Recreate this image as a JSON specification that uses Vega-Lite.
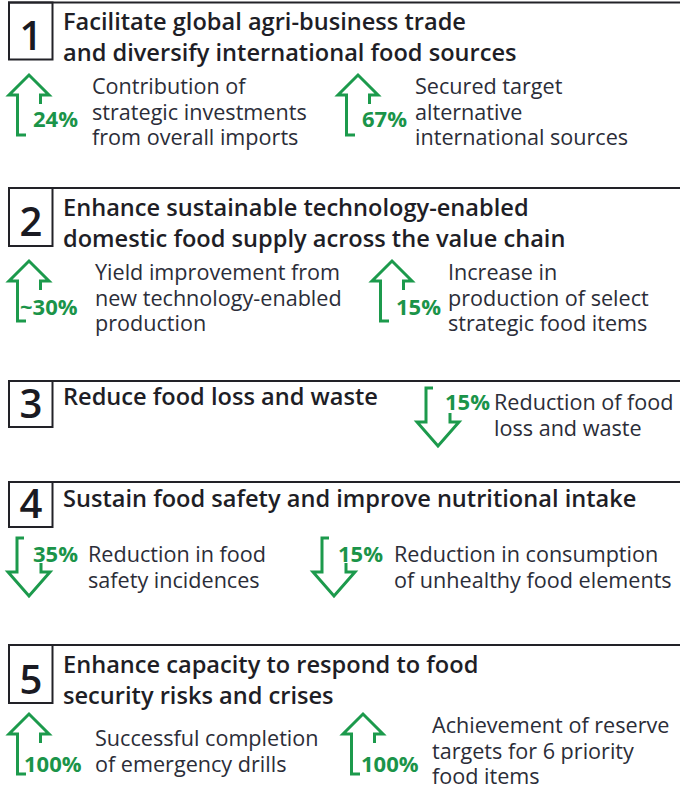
{
  "$schema": "https://vega.github.io/schema/vega-lite/v6.json",
  "width": 686,
  "height": 789,
  "autosize": {"type": "none"},
  "padding": 0,
  "background": "white",
  "config": {"view": {"stroke": null}},
  "datasets": {
    "lines": [
      {"section": 1, "x": 8, "x2": 680, "y": 2.5},
      {"section": 2, "x": 8, "x2": 680, "y": 188},
      {"section": 3, "x": 8, "x2": 680, "y": 381},
      {"section": 4, "x": 8, "x2": 680, "y": 482},
      {"section": 5, "x": 8, "x2": 680, "y": 645}
    ],
    "boxes": [
      {"section": 1, "x": 9, "x2": 52.5, "y": 2.5, "y2": 59.5},
      {"section": 2, "x": 9, "x2": 52.5, "y": 188, "y2": 246},
      {"section": 3, "x": 9, "x2": 52.5, "y": 381, "y2": 427},
      {"section": 4, "x": 9, "x2": 52.5, "y": 482, "y2": 527},
      {"section": 5, "x": 9, "x2": 52.5, "y": 645, "y2": 703}
    ],
    "numbers": [
      {"label": "1", "x": 31, "y": 50},
      {"label": "2", "x": 31, "y": 236},
      {"label": "3", "x": 31, "y": 418},
      {"label": "4", "x": 31, "y": 518},
      {"label": "5", "x": 31, "y": 694}
    ],
    "titles": [
      {"label": "Facilitate global agri-business trade\nand diversify  international food sources", "x": 63, "y": 30},
      {"label": "Enhance sustainable technology-enabled\ndomestic food supply across the value chain", "x": 63, "y": 216},
      {"label": "Reduce food loss and waste", "x": 63, "y": 405},
      {"label": "Sustain food safety and improve nutritional intake", "x": 63, "y": 507},
      {"label": "Enhance capacity to respond to food\nsecurity risks and crises", "x": 63, "y": 673}
    ],
    "descs": [
      {"label": "Contribution of\nstrategic investments\nfrom overall imports", "x": 92, "y": 94.3},
      {"label": "Secured target\nalternative\ninternational sources", "x": 415, "y": 94.3},
      {"label": "Yield improvement from\nnew technology-enabled\nproduction", "x": 95, "y": 280},
      {"label": "Increase in\nproduction of select\nstrategic food items", "x": 448, "y": 280},
      {"label": "Reduction of food\nloss and waste", "x": 494, "y": 410},
      {"label": "Reduction in food\nsafety incidences", "x": 88, "y": 562},
      {"label": "Reduction in consumption\nof unhealthy food elements", "x": 394, "y": 562},
      {"label": "Successful completion\nof emergency drills", "x": 95, "y": 746},
      {"label": "Achievement of reserve\ntargets for 6 priority\nfood items", "x": 432, "y": 733}
    ],
    "pcts": [
      {"label": "24%", "x": 33, "y": 127},
      {"label": "67%", "x": 362, "y": 127},
      {"label": "~30%", "x": 20, "y": 315},
      {"label": "15%", "x": 396, "y": 315},
      {"label": "15%", "x": 445, "y": 410},
      {"label": "35%", "x": 33, "y": 562},
      {"label": "15%", "x": 338, "y": 562},
      {"label": "100%", "x": 24, "y": 772},
      {"label": "100%", "x": 361, "y": 772}
    ],
    "arrows": [
      {"arrow": "A1", "ord": 1, "x": 40.5, "y": 104}, {"arrow": "A1", "ord": 2, "x": 40.5, "y": 95}, {"arrow": "A1", "ord": 3, "x": 49, "y": 95}, {"arrow": "A1", "ord": 4, "x": 29, "y": 75}, {"arrow": "A1", "ord": 5, "x": 9, "y": 95}, {"arrow": "A1", "ord": 6, "x": 17.5, "y": 95}, {"arrow": "A1", "ord": 7, "x": 17.5, "y": 135}, {"arrow": "A1", "ord": 8, "x": 26, "y": 135},
      {"arrow": "A2", "ord": 1, "x": 369.5, "y": 104}, {"arrow": "A2", "ord": 2, "x": 369.5, "y": 95}, {"arrow": "A2", "ord": 3, "x": 378, "y": 95}, {"arrow": "A2", "ord": 4, "x": 358, "y": 75}, {"arrow": "A2", "ord": 5, "x": 338, "y": 95}, {"arrow": "A2", "ord": 6, "x": 346.5, "y": 95}, {"arrow": "A2", "ord": 7, "x": 346.5, "y": 135}, {"arrow": "A2", "ord": 8, "x": 355, "y": 135},
      {"arrow": "A3", "ord": 1, "x": 40.5, "y": 290}, {"arrow": "A3", "ord": 2, "x": 40.5, "y": 281}, {"arrow": "A3", "ord": 3, "x": 49, "y": 281}, {"arrow": "A3", "ord": 4, "x": 29, "y": 261}, {"arrow": "A3", "ord": 5, "x": 9, "y": 281}, {"arrow": "A3", "ord": 6, "x": 17.5, "y": 281}, {"arrow": "A3", "ord": 7, "x": 17.5, "y": 321}, {"arrow": "A3", "ord": 8, "x": 26, "y": 321},
      {"arrow": "A4", "ord": 1, "x": 403.5, "y": 290}, {"arrow": "A4", "ord": 2, "x": 403.5, "y": 281}, {"arrow": "A4", "ord": 3, "x": 412, "y": 281}, {"arrow": "A4", "ord": 4, "x": 392, "y": 261}, {"arrow": "A4", "ord": 5, "x": 372, "y": 281}, {"arrow": "A4", "ord": 6, "x": 380.5, "y": 281}, {"arrow": "A4", "ord": 7, "x": 380.5, "y": 321}, {"arrow": "A4", "ord": 8, "x": 389, "y": 321},
      {"arrow": "A5", "ord": 1, "x": 40.5, "y": 743}, {"arrow": "A5", "ord": 2, "x": 40.5, "y": 734}, {"arrow": "A5", "ord": 3, "x": 49, "y": 734}, {"arrow": "A5", "ord": 4, "x": 29, "y": 714}, {"arrow": "A5", "ord": 5, "x": 9, "y": 734}, {"arrow": "A5", "ord": 6, "x": 17.5, "y": 734}, {"arrow": "A5", "ord": 7, "x": 17.5, "y": 774}, {"arrow": "A5", "ord": 8, "x": 26, "y": 774},
      {"arrow": "A6", "ord": 1, "x": 374.5, "y": 743}, {"arrow": "A6", "ord": 2, "x": 374.5, "y": 734}, {"arrow": "A6", "ord": 3, "x": 383, "y": 734}, {"arrow": "A6", "ord": 4, "x": 363, "y": 714}, {"arrow": "A6", "ord": 5, "x": 343, "y": 734}, {"arrow": "A6", "ord": 6, "x": 351.5, "y": 734}, {"arrow": "A6", "ord": 7, "x": 351.5, "y": 774}, {"arrow": "A6", "ord": 8, "x": 360, "y": 774},
      {"arrow": "D1", "ord": 1, "x": 433, "y": 388}, {"arrow": "D1", "ord": 2, "x": 426, "y": 388}, {"arrow": "D1", "ord": 3, "x": 426, "y": 422}, {"arrow": "D1", "ord": 4, "x": 417, "y": 422}, {"arrow": "D1", "ord": 5, "x": 438, "y": 446}, {"arrow": "D1", "ord": 6, "x": 459, "y": 422}, {"arrow": "D1", "ord": 7, "x": 450, "y": 422}, {"arrow": "D1", "ord": 8, "x": 450, "y": 413},
      {"arrow": "D2", "ord": 1, "x": 24, "y": 538}, {"arrow": "D2", "ord": 2, "x": 17, "y": 538}, {"arrow": "D2", "ord": 3, "x": 17, "y": 572}, {"arrow": "D2", "ord": 4, "x": 8, "y": 572}, {"arrow": "D2", "ord": 5, "x": 29, "y": 596}, {"arrow": "D2", "ord": 6, "x": 50, "y": 572}, {"arrow": "D2", "ord": 7, "x": 41, "y": 572}, {"arrow": "D2", "ord": 8, "x": 41, "y": 563},
      {"arrow": "D3", "ord": 1, "x": 329, "y": 538}, {"arrow": "D3", "ord": 2, "x": 322, "y": 538}, {"arrow": "D3", "ord": 3, "x": 322, "y": 572}, {"arrow": "D3", "ord": 4, "x": 313, "y": 572}, {"arrow": "D3", "ord": 5, "x": 334, "y": 596}, {"arrow": "D3", "ord": 6, "x": 355, "y": 572}, {"arrow": "D3", "ord": 7, "x": 346, "y": 572}, {"arrow": "D3", "ord": 8, "x": 346, "y": 563}
    ]
  },
  "layer": [
    {
      "data": {"name": "lines"},
      "mark": {"type": "rule", "stroke": "#222228", "strokeWidth": 2.2},
      "encoding": {
        "x": {"field": "x", "type": "quantitative", "scale": {"domain": [0, 686], "nice": false, "zero": false}, "axis": null},
        "x2": {"field": "x2"},
        "y": {"field": "y", "type": "quantitative", "scale": {"domain": [0, 789], "nice": false, "zero": false, "reverse": true}, "axis": null}
      }
    },
    {
      "data": {"name": "boxes"},
      "mark": {"type": "rect", "fill": null, "stroke": "#222228", "strokeWidth": 2},
      "encoding": {
        "x": {"field": "x", "type": "quantitative", "axis": null},
        "x2": {"field": "x2"},
        "y": {"field": "y", "type": "quantitative", "axis": null},
        "y2": {"field": "y2"}
      }
    },
    {
      "data": {"name": "arrows"},
      "mark": {"type": "line", "stroke": "#1c9a4c", "strokeWidth": 3, "strokeJoin": "miter", "strokeCap": "butt"},
      "encoding": {
        "x": {"field": "x", "type": "quantitative", "axis": null},
        "y": {"field": "y", "type": "quantitative", "axis": null},
        "detail": {"field": "arrow"},
        "order": {"field": "ord", "type": "quantitative"}
      }
    },
    {
      "data": {"name": "numbers"},
      "mark": {"type": "text", "font": "Open Sans", "fontSize": 40, "fontWeight": 600, "fill": "#1a1a22", "align": "center", "baseline": "alphabetic"},
      "encoding": {
        "x": {"field": "x", "type": "quantitative", "axis": null},
        "y": {"field": "y", "type": "quantitative", "axis": null},
        "text": {"field": "label"}
      }
    },
    {
      "data": {"name": "titles"},
      "mark": {"type": "text", "font": "Open Sans", "fontSize": 23.6, "fontWeight": 600, "fill": "#1e1e26", "align": "left", "baseline": "alphabetic", "lineBreak": "\n", "lineHeight": 31.3},
      "encoding": {
        "x": {"field": "x", "type": "quantitative", "axis": null},
        "y": {"field": "y", "type": "quantitative", "axis": null},
        "text": {"field": "label"}
      }
    },
    {
      "data": {"name": "descs"},
      "mark": {"type": "text", "font": "Open Sans", "fontSize": 21.6, "fontWeight": 400, "fill": "#2b2d38", "align": "left", "baseline": "alphabetic", "lineBreak": "\n", "lineHeight": 25.6},
      "encoding": {
        "x": {"field": "x", "type": "quantitative", "axis": null},
        "y": {"field": "y", "type": "quantitative", "axis": null},
        "text": {"field": "label"}
      }
    },
    {
      "data": {"name": "pcts"},
      "mark": {"type": "text", "font": "Open Sans", "fontSize": 22, "fontWeight": 700, "fill": "#1b9449", "align": "left", "baseline": "alphabetic"},
      "encoding": {
        "x": {"field": "x", "type": "quantitative", "axis": null},
        "y": {"field": "y", "type": "quantitative", "axis": null},
        "text": {"field": "label"}
      }
    }
  ]
}
